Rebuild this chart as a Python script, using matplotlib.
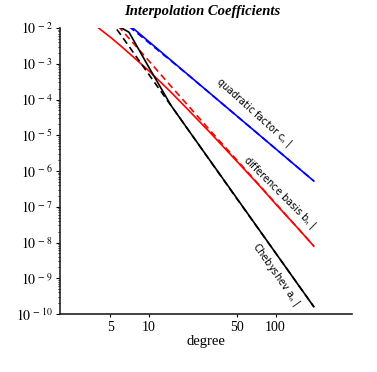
import numpy as np
import matplotlib
matplotlib.use("Agg")
import matplotlib.pyplot as plt

plt.rcParams['font.family'] = ['Liberation Serif', 'DejaVu Serif']
plt.rcParams['mathtext.fontset'] = 'stix'

# values (degree n vs coefficient size)
n_cheb = [5, 7, 10, 15, 20, 50, 100, 200]
a_cheb = [1.5e-2, 7.6e-3, 8.1e-4, 6.8e-5, 1.6e-5, 1.64e-7, 5.1e-9, 1.6e-10]
n_cheb_est = [5, 6, 8, 10, 20, 50, 100, 200]
a_cheb_est = [1.6e-2, 6.6e-3, 1.56e-3, 5.1e-4, 1.6e-5, 1.6e-7, 5.1e-9, 1.6e-10]

n_diff = [4, 5, 6, 8, 10, 15, 20, 30, 50, 75, 100, 150, 200]
b_diff = [1.02e-2, 5.5e-3, 3.2e-3, 1.3e-3, 6.4e-4, 1.6e-4, 5.6e-5, 1.26e-5,
          1.8e-6, 3.8e-7, 1.2e-7, 2.5e-8, 7.9e-9]
n_diff_est = [5, 6, 8, 10, 15, 20, 30, 50, 100, 200]
b_diff_est = [1.9e-2, 9.5e-3, 3.0e-3, 1.22e-3, 2.35e-4, 7.4e-5, 1.45e-5,
              1.95e-6, 1.25e-7, 8.0e-9]

n_quad = [7, 10, 20, 50, 100, 200]
c_quad = [1.22e-2, 4.2e-3, 5.25e-4, 3.36e-5, 4.2e-6, 5.25e-7]
n_quad_est = [7, 8, 10, 15, 20, 50, 100, 200]
c_quad_est = [1.1e-2, 7.5e-3, 3.9e-3, 1.2e-3, 5.2e-4, 3.36e-5, 4.2e-6, 5.25e-7]

xticks = [5, 10, 50, 100]
yexp = list(range(-10, -1))
ytick_labels = [r"$10^{\,-\,%d}$" % (-e) for e in yexp]

fig = plt.figure(figsize=(3.77, 3.72), dpi=100)
ax = fig.add_axes([60/377, 1-314/372, 292/377, 286/372])

lw = 1.2
dash = (0, (4, 2.5))
ax.plot(n_quad, c_quad, color='#0000ff', lw=lw)
ax.plot(n_quad_est, c_quad_est, color='#0000ff', lw=lw, linestyle=dash)
ax.plot(n_diff, b_diff, color='#ff0000', lw=lw)
ax.plot(n_diff_est, b_diff_est, color='#ff0000', lw=lw, linestyle=dash)
ax.plot(n_cheb, a_cheb, color='black', lw=lw)
ax.plot(n_cheb_est, a_cheb_est, color='black', lw=lw, linestyle=dash)

ax.set_xscale('log')
ax.set_yscale('log')
ax.set_xlim(2, 400)
ax.set_ylim(1e-10, 1e-2)

ax.set_xticks(xticks)
ax.set_xticklabels([str(t) for t in xticks], fontsize=10)
ax.xaxis.set_minor_locator(matplotlib.ticker.NullLocator())
ax.set_yticks([10.0**e for e in yexp])
ax.set_yticklabels(ytick_labels, fontsize=10)
ax.yaxis.set_minor_locator(matplotlib.ticker.LogLocator(base=10, subs=np.arange(2, 10)))
ax.yaxis.set_minor_formatter(matplotlib.ticker.NullFormatter())
ax.tick_params(axis='y', which='major', length=3, width=0.8, direction='out', pad=2)
ax.tick_params(axis='y', which='minor', length=1.5, width=0.6, direction='out')
ax.tick_params(axis='x', which='major', length=2, width=0.8, direction='out', pad=3)

for s in ['top', 'right']:
    ax.spines[s].set_visible(False)
for s in ['left', 'bottom']:
    ax.spines[s].set_linewidth(1.2)
    ax.spines[s].set_color('#222222')

ax.set_xlabel('degree', fontsize=10.5, labelpad=1)

lab = dict(family='DejaVu Sans', fontsize=7, ha='center', va='center',
           rotation_mode='anchor')
ax.text(67, 4.2e-5, r"quadratic factor c$_n$ |", rotation=-42, **lab)
ax.text(108, 2.4e-7, r"difference basis b$_n$ |", rotation=-45, **lab)
ax.text(100, 1.25e-9, r"Chebyshev a$_n$ |", rotation=-55, **lab)

fig.text(202/377, 1-11/372, 'Interpolation Coefficients', ha='center', va='center',
         fontsize=10.5, fontstyle='italic', fontweight='bold')

fig.savefig('out.png', dpi=100)
